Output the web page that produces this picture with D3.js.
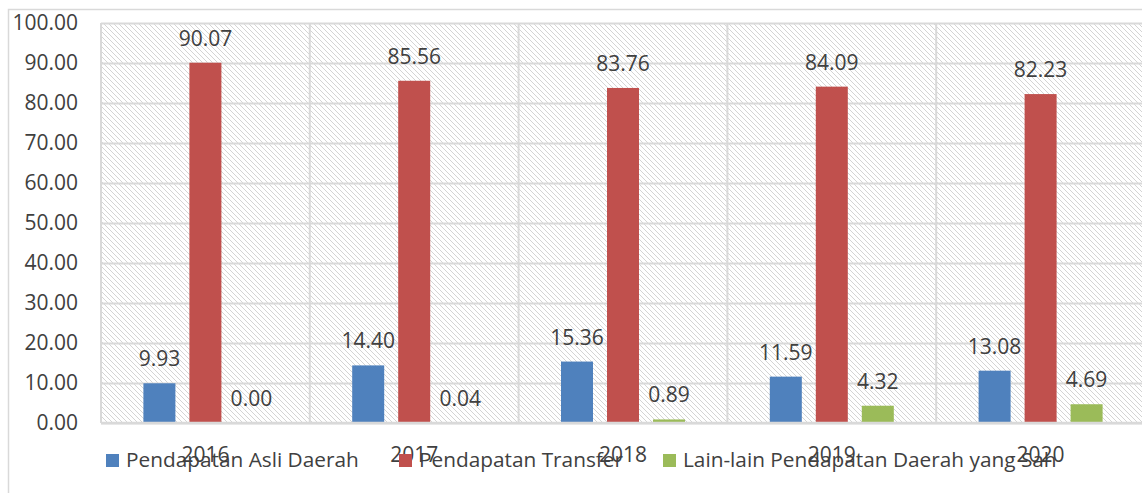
<!DOCTYPE html>
<html>
<head>
<meta charset="utf-8">
<script src="https://cdn.jsdelivr.net/npm/d3@7"></script>
<style>
  html, body { margin: 0; padding: 0; background: #fff; }
  svg { display: block; }
  text { font-family: "Open Sans", "Noto Sans", sans-serif; fill: #404040; }
</style>
</head>
<body>
<svg id="chart" width="1142" height="493"></svg>
<script>
// Revenue composition (percent) by year
const years = ["2016", "2017", "2018", "2019", "2020"];
const seriesNames = ["Pendapatan Asli Daerah", "Pendapatan Transfer", "Lain-lain Pendapatan Daerah yang Sah"];
const pad = [9.93, 14.40, 15.36, 11.59, 13.08];
const transfer = [90.07, 85.56, 83.76, 84.09, 82.23];
const lainLain = [0.00, 0.04, 0.89, 4.32, 4.69];
const yTicks = [0, 10, 20, 30, 40, 50, 60, 70, 80, 90, 100];
const colors = ["#4f81bd", "#c0504d", "#9bbb59"];

const seriesValues = [pad, transfer, lainLain];
const rows = years.map((yr, i) => ({ year: yr, values: seriesValues.map(s => s[i]) }));

const svg = d3.select("#chart");

// chart frame
svg.append("rect")
  .attr("x", 8.5).attr("y", 9.5).attr("width", 1160).attr("height", 500)
  .attr("fill", "#fff").attr("stroke", "#d9d9d9").attr("stroke-width", 1.5);

const plot = { left: 101, right: 1145, top: 23, bottom: 423 };

const x = d3.scaleBand().domain(years).range([plot.left, plot.right]).padding(0);
const y = d3.scaleLinear().domain([0, 100]).range([plot.bottom, plot.top]);
const inner = d3.scaleBand().domain(d3.range(seriesNames.length))
  .range([-69, 69]).paddingInner(14 / 46).paddingOuter(7 / 46);

// diagonal hatch fill for the plot area
const defs = svg.append("defs");
const pat = defs.append("pattern")
  .attr("id", "hatch").attr("patternUnits", "userSpaceOnUse")
  .attr("width", 5).attr("height", 5);
pat.append("rect").attr("width", 5).attr("height", 5).attr("fill", "#fff");
pat.append("path").attr("d", "M-1,-1 L6,6 M-1,4 L1,6 M4,-1 L6,1")
  .attr("stroke", "#d4d4d4").attr("stroke-width", 1);

svg.append("rect")
  .attr("x", plot.left).attr("y", plot.top)
  .attr("width", plot.right - plot.left).attr("height", plot.bottom - plot.top)
  .attr("fill", "url(#hatch)");

// horizontal gridlines
svg.append("g")
  .attr("transform", `translate(${plot.left},0)`)
  .call(d3.axisLeft(y).tickValues(yTicks).tickSize(-(plot.right - plot.left)).tickFormat(""))
  .call(g => g.select(".domain").remove())
  .call(g => g.selectAll("line").attr("stroke", "#d9d9d9").attr("stroke-width", 2));

// vertical category separators
svg.append("g").selectAll("line")
  .data(years.concat(["end"]))
  .join("line")
  .attr("x1", (d, i) => plot.left + i * x.step())
  .attr("x2", (d, i) => plot.left + i * x.step())
  .attr("y1", plot.top).attr("y2", plot.bottom)
  .attr("stroke", "#d9d9d9").attr("stroke-width", 2);

// y tick labels
svg.append("g")
  .attr("transform", `translate(${plot.left},0)`)
  .call(d3.axisLeft(y).tickValues(yTicks).tickSize(0).tickPadding(23).tickFormat(d3.format(".2f")))
  .call(g => g.select(".domain").remove())
  .call(g => g.selectAll("text")
    .style("font-family", '"Open Sans", sans-serif')
    .attr("font-size", 21).attr("fill", "#595959"));

// bars
const groups = svg.append("g").selectAll("g")
  .data(rows).join("g")
  .attr("transform", d => `translate(${x(d.year) + x.bandwidth() / 2},0)`);

groups.selectAll("rect")
  .data(d => d.values.map((v, k) => ({ v, k })))
  .join("rect")
  .attr("x", d => inner(d.k))
  .attr("width", inner.bandwidth())
  .attr("y", d => y(d.v))
  .attr("height", d => y(0) - y(d.v))
  .attr("fill", d => colors[d.k]);

// value labels
groups.selectAll("text.val")
  .data(d => d.values.map((v, k) => ({ v, k })))
  .join("text")
  .attr("class", "val")
  .attr("x", d => inner(d.k) + inner.bandwidth() / 2)
  .attr("y", d => y(d.v) - 17)
  .attr("text-anchor", "middle")
  .attr("font-size", 21)
  .text(d => d3.format(".2f")(d.v));

// x axis line
svg.append("line")
  .attr("x1", plot.left).attr("x2", plot.right)
  .attr("y1", plot.bottom).attr("y2", plot.bottom)
  .attr("stroke", "#d9d9d9").attr("stroke-width", 2.5);

// category labels
svg.append("g")
  .attr("transform", `translate(0,${plot.bottom})`)
  .call(d3.axisBottom(x).tickSize(0).tickPadding(24))
  .call(g => g.select(".domain").remove())
  .call(g => g.selectAll("text")
    .style("font-family", '"Open Sans", sans-serif')
    .attr("font-size", 21).attr("fill", "#595959"));

// legend
const legendX = [106, 399, 663];
const legend = svg.append("g").selectAll("g")
  .data(seriesNames).join("g")
  .attr("transform", (d, i) => `translate(${legendX[i]},454)`);
legend.append("rect").attr("width", 13).attr("height", 13).attr("fill", (d, i) => colors[i]);
legend.append("text")
  .attr("x", 20).attr("y", 13)
  .attr("font-size", 20.8).attr("fill", "#595959")
  .text(d => d);
</script>
</body>
</html>
